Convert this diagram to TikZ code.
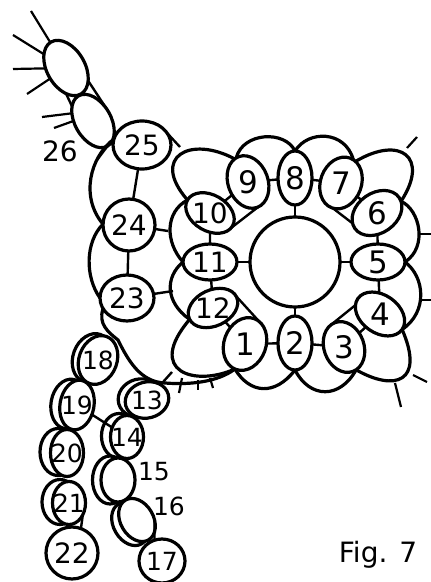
\documentclass[tikz,border=0pt]{standalone}
\usepackage{fontspec}
\setmainfont{DejaVu Sans}
\usetikzlibrary{shapes.geometric}
\tikzset{
  ring/.style 2 args={draw, ellipse, fill=white, line width=3.2pt, inner sep=0pt, outer sep=0pt, minimum width=#1pt, minimum height=#2pt},
  bignum/.style={font=\fontsize{31}{31}\selectfont, inner sep=0pt},
  num/.style={font=\fontsize{28}{28}\selectfont, inner sep=0pt},
  smallnum/.style={font=\fontsize{25}{25}\selectfont, inner sep=0pt},
  arcline/.style={line width=3.2pt},
  stem/.style={line width=2.4pt},
  stick/.style={line width=2.2pt}
}
\begin{document}
\begin{tikzpicture}[x=1pt, y=1pt]
\useasboundingbox (0,0) rectangle (431,582);
\node[ring={90}{90}] (hub) at (295,320) {};
\node[ring={42}{54}, rotate=-20] (r1) at (245,238) {};
\node[ring={34}{54}] (r2) at (295,239) {};
\node[ring={40}{52}, rotate=20] (r3) at (344,235) {};
\node[ring={54}{38}, rotate=-35] (r4) at (380,268) {};
\node[ring={54}{36}] (r5) at (378,320) {};
\node[ring={54}{40}, rotate=35] (r6) at (377,369) {};
\node[ring={41}{53}, rotate=-20] (r7) at (341,399) {};
\node[ring={34}{54}] (r8) at (295,404) {};
\node[ring={40}{54}, rotate=20] (r9) at (248,400) {};
\node[ring={52}{36}, rotate=-30] (r10) at (210,369) {};
\node[ring={54}{36}] (r11) at (210,320) {};
\node[ring={52}{36}, rotate=25] (r12) at (213,274) {};
\node[ring={58}{48}] (r25) at (142,437) {};
\node[ring={52}{52}] (r24) at (129,357) {};
\node[ring={54}{46}] (r23) at (127,284) {};
\node[ring={38}{60}, rotate=30] (ra) at (66,514) {};
\node[ring={36}{58}, rotate=30] (rb) at (93,461) {};
\node[ring={38}{50}, rotate=-20] (b18) at (92,224) {};
\node[ring={38}{50}, rotate=-20] (r18) at (98,222) {};
\node[ring={36}{50}, rotate=-10] (b19) at (69,178) {};
\node[ring={34}{50}, rotate=-10] (r19) at (77,177) {};
\node[ring={36}{47}] (b20) at (58,130) {};
\node[ring={33}{47}] (r20) at (67,129) {};
\node[ring={36}{45}] (b21) at (60,80) {};
\node[ring={33}{43}] (r21) at (69,79) {};
\node[ring={52}{52}] (r22) at (72,29) {};
\node[ring={44}{38}, rotate=15] (b13) at (140,184) {};
\node[ring={44}{36}, rotate=15] (r13) at (147,182) {};
\node[ring={35}{45}] (b14) at (119,146) {};
\node[ring={33}{43}] (r14) at (127,145) {};
\node[ring={35}{48}] (b15) at (110,102) {};
\node[ring={34}{44}] (r15) at (118,102) {};
\node[ring={33}{46}, rotate=30] (b16) at (130,58) {};
\node[ring={33}{46}, rotate=30] (r16) at (137,62) {};
\node[ring={46}{44}] (r17) at (162,21) {};
\node[bignum] (n1) at (r1) {1};
\node[bignum] (n2) at (r2) {2};
\node[bignum] (n3) at (r3) {3};
\node[bignum] (n4) at (r4) {4};
\node[bignum] (n5) at (r5) {5};
\node[bignum] (n6) at (r6) {6};
\node[bignum] (n7) at (r7) {7};
\node[bignum] (n8) at (r8) {8};
\node[bignum] (n9) at (r9) {9};
\node[num] (n10) at (r10) {10};
\node[num] (n11) at (r11) {11};
\node[num] (n12) at (r12) {12};
\node[num] (n25) at (r25) {25};
\node[num] (n24) at (r24) {24};
\node[num] (n23) at (r23) {23};
\node[smallnum] (n18) at (r18) {18};
\node[smallnum] (n19) at (r19) {19};
\node[smallnum] (n20) at (r20) {20};
\node[smallnum] (n21) at (r21) {21};
\node[num] (n22) at (r22) {22};
\node[smallnum] (n13) at (r13) {13};
\node[smallnum] (n14) at (r14) {14};
\node[smallnum] (n17) at (r17) {17};
\node[smallnum] (n15) at (154,110) {15};
\node[smallnum] (n16) at (169,76) {16};
\node[num] (n26) at (60,431) {26};
\node[num] (fig) at (378,27) {Fig. 7};
\coordinate (k25) at (180,435);
\coordinate (k24) at (168,351);
\coordinate (k23) at (173,291);
\coordinate (k13) at (172,210);
\coordinate (s6) at (417,445);
\coordinate (s5) at (431,348);
\coordinate (s4) at (431,282);
\coordinate (s3a) at (427,200);
\coordinate (s3b) at (401,175);
\coordinate (q6) at (407,434);
\coordinate (q5) at (418,348);
\coordinate (q4) at (420,282);
\coordinate (q3a) at (413,207);
\coordinate (q3b) at (395,199);
\coordinate (sa1) at (31,571);
\coordinate (sa2) at (13,547);
\coordinate (sa3) at (13,513);
\coordinate (sa4) at (27,488);
\coordinate (sb1) at (42,465);
\coordinate (sb2) at (54,454);
\coordinate (qb) at (97,422);
\coordinate (c1) at (182,204);
\coordinate (c2) at (198,202);
\coordinate (c3) at (210,204);
\coordinate (e1) at (179,189);
\coordinate (e2) at (198,192);
\coordinate (e3) at (213,194);
\draw[stem] (hub) -- (r2);
\draw[stem] (hub) -- (r5);
\draw[stem] (hub) -- (r8);
\draw[stem] (hub) -- (r11);
\draw[stem] (r1) -- (r2);
\draw[stem] (r2) -- (r3);
\draw[stem] (r3) -- (r4);
\draw[stem] (r4) -- (r5);
\draw[stem] (r5) -- (r6);
\draw[stem] (r6) -- (r7);
\draw[stem] (r7) -- (r8);
\draw[stem] (r8) -- (r9);
\draw[stem] (r9) -- (r10);
\draw[stem] (r10) -- (r11);
\draw[stem] (r11) -- (r12);
\draw[stem] (r12) -- (r1);
\draw[stem] (r9.-88) -- (r10.-5);
\draw[stem] (r7.-88) -- (r6.168);
\draw[stem] (r12.2) -- (r1.78);
\draw[stem] (r3.100) -- (r4.195);
\draw[arcline] (r9.96) .. controls (243,450) and (285,452) .. (r8.90);
\draw[arcline] (r8.90) .. controls (308,452) and (345,452) .. (r7.82);
\draw[arcline] (r9.100) .. controls (190,447) and (150,425) .. (r10.180);
\draw[arcline] (r7.76) .. controls (400,447) and (430,425) .. (r6.-9);
\draw[arcline] (r6.-9) .. controls (420,372) and (428,335) .. (r5.0);
\draw[arcline] (r5.0) .. controls (425,305) and (428,270) .. (r4.0);
\draw[arcline] (r4.0) .. controls (425,200) and (395,190) .. (r3.-82);
\draw[arcline] (r3.-82) .. controls (340,183) and (310,183) .. (r2.-90);
\draw[arcline] (r2.-90) .. controls (275,186) and (250,188) .. (r1.-92);
\draw[arcline] (r1.-92) .. controls (195,195) and (145,210) .. (r12.-179);
\draw[arcline] (r12.-179) .. controls (165,280) and (165,305) .. (r11.180);
\draw[arcline] (r11.180) .. controls (165,340) and (165,370) .. (r10.180);
\draw[arcline] (r25.168) .. controls (90,425) and (80,385) .. (r24.178);
\draw[arcline] (r24.178) .. controls (85,340) and (85,305) .. (r23.180);
\draw[arcline] (r23.204) .. controls (98,258) and (108,250) .. (118,242) .. controls (128,222) and (140,200) .. (165,199) .. controls (190,197) and (218,200) .. (r1.-92);
\draw[stem] (r25) -- (r24);
\draw[stem] (r24) -- (r23);
\draw[stem] (r24) -- (k24);
\draw[stem] (r23) -- (k23);
\draw[stem] (r25.25) -- (k25);
\draw[stem] (r13) -- (k13);
\draw[stem] (r19) -- (r14);
\draw[stem] (r16.-30) -- (r17.110);
\draw[stem] (r21.-40) -- (r22.70);
\draw[stem] (ra.-60) -- (rb.10);
\draw[stem] (ra.-120) -- (rb.115);
\draw[stem] (rb.-90) -- (qb);
\draw[stick] (q6) -- (s6);
\draw[stick] (q5) -- (s5);
\draw[stick] (q4) -- (s4);
\draw[stick] (q3a) -- (s3a);
\draw[stick] (q3b) -- (s3b);
\draw[stick] (ra) -- (sa1);
\draw[stick] (ra) -- (sa2);
\draw[stick] (ra) -- (sa3);
\draw[stick] (ra) -- (sa4);
\draw[stick] (rb.130) -- (sb1);
\draw[stick] (rb.150) -- (sb2);
\draw[stick] (c1) -- (e1);
\draw[stick] (c2) -- (e2);
\draw[stick] (c3) -- (e3);
\end{tikzpicture}
\end{document}
